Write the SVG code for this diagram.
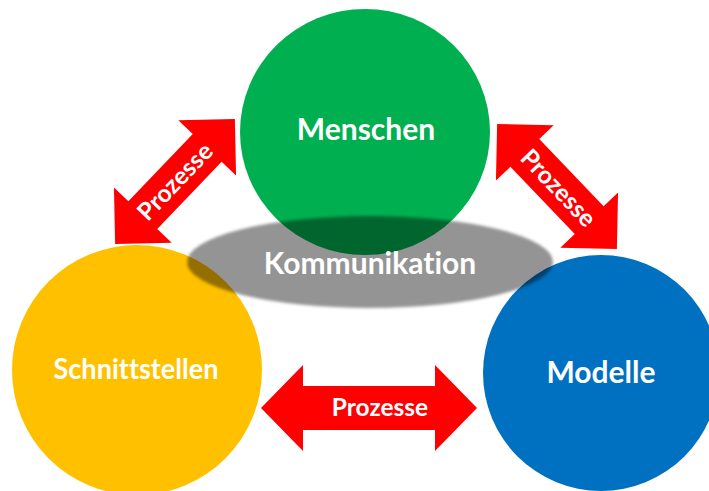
<svg xmlns="http://www.w3.org/2000/svg" width="709" height="491" viewBox="0 0 709 491">
<style>
.lbl{font-family:Lato,"Open Sans",sans-serif;font-weight:bold;fill:#fff;text-anchor:middle;font-variant-ligatures:none;font-feature-settings:"liga" 0}
.big{font-size:30px}
.pr{font-size:24.5px}
.arrow{fill:#ff0000}
</style>
<defs>
<filter id="soft" x="-10%" y="-20%" width="120%" height="140%"><feGaussianBlur stdDeviation="1.5"/></filter>
</defs>
<rect width="709" height="491" fill="#fff"/>
<g id="menschen"><ellipse cx="365" cy="132" rx="125" ry="123" fill="#00b050"/><text class="lbl big" x="366" y="140">Menschen</text></g>
<g id="schnittstellen"><circle cx="137" cy="370" r="125" fill="#ffc000"/><text class="lbl big" x="136" y="379" style="font-size:28px" textLength="165" lengthAdjust="spacingAndGlyphs">Schnittstellen</text></g>
<g id="modelle"><circle cx="601" cy="373" r="118" fill="#0070c0"/><text class="lbl big" x="601" y="383">Modelle</text></g>
<g id="connectors">
<g transform="translate(175,181.5) rotate(-46.2)"><path class="arrow" d="M-86.5,0 L-46.5,-40 L-46.5,-20 L46.5,-20 L46.5,-40 L86.5,0 L46.5,40 L46.5,20 L-46.5,20 L-46.5,40 Z"/><text class="lbl pr" x="0" y="8.5">Prozesse</text></g>
<g transform="translate(557,186.5) rotate(46.2)"><path class="arrow" d="M-86.5,0 L-46.5,-40 L-46.5,-20 L46.5,-20 L46.5,-40 L86.5,0 L46.5,40 L46.5,20 L-46.5,20 L-46.5,40 Z"/><text class="lbl pr" x="2" y="8.5">Prozesse</text></g>
<g transform="translate(369,408)"><path class="arrow" d="M-108,0 L-66,-43 L-66,-22 L66,-22 L66,-43 L108,0 L66,43 L66,22 L-66,22 L-66,43 Z"/><text class="lbl pr" x="11" y="8">Prozesse</text></g>
</g>
<g id="kommunikation"><ellipse cx="370" cy="262" rx="183" ry="46" fill="#000" fill-opacity="0.42" filter="url(#soft)"/><text class="lbl big" x="370" y="274">Kommunikation</text></g>
</svg>
